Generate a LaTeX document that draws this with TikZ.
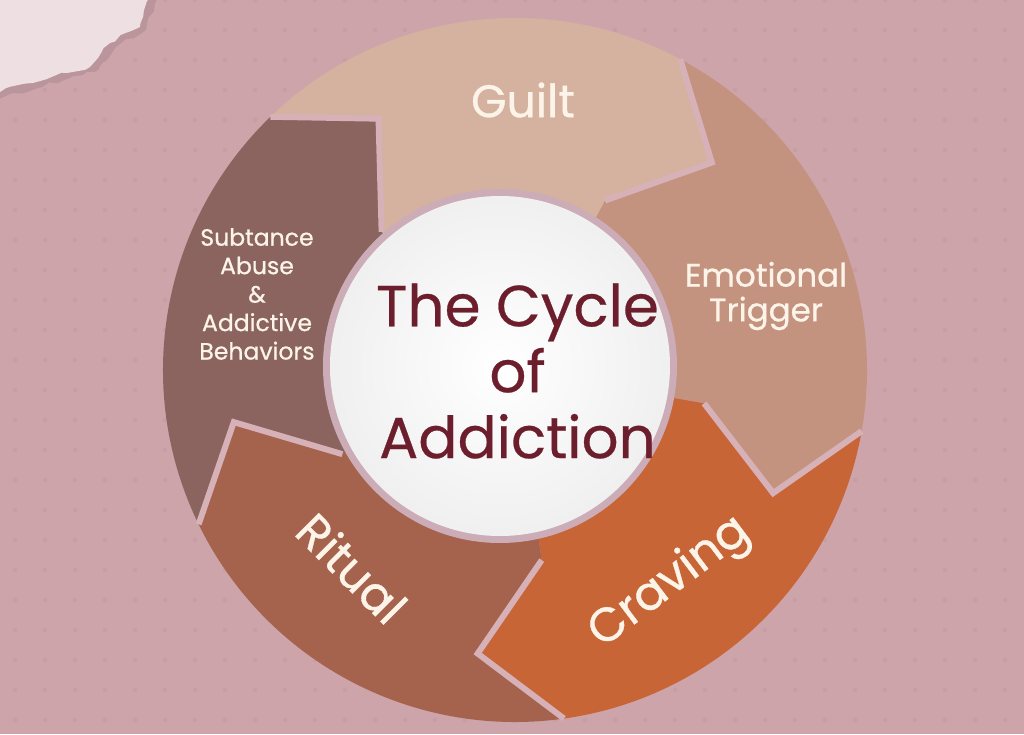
\documentclass[tikz,border=0pt]{standalone}
\usepackage{fontspec}
\setmainfont{Poppins}
\newfontfamily\heavyfont{Poppins}[FakeBold=0.7]
\newfontfamily\midfont{Poppins}[FakeBold=0.45]
\usetikzlibrary{decorations.pathmorphing}

\definecolor{bgpink}{RGB}{205,164,170}
\definecolor{dotpink}{RGB}{200,158,165}
\definecolor{paper}{RGB}{238,223,227}
\definecolor{papershade}{RGB}{186,150,156}
\definecolor{seppink}{RGB}{214,177,183}
\definecolor{rimpink}{RGB}{204,172,182}
\definecolor{guiltc}{RGB}{213,178,160}
\definecolor{triggerc}{RGB}{196,147,128}
\definecolor{cravingc}{RGB}{200,101,55}
\definecolor{ritualc}{RGB}{165,99,78}
\definecolor{abusec}{RGB}{139,100,96}
\definecolor{maroon}{RGB}{108,30,45}
\definecolor{cream}{RGB}{252,244,232}

\newcommand\rout{7.04cm}
\newcommand\rmid{5.72cm}
\newcommand\rjoin{3.84cm}
\newcommand\rin{2.6cm}
% #1 = tail angle, #2 = colour; the head sits 72 degrees further clockwise
\newcommand\cyclearrow[2]{%
  \fill[#2] (#1:\rout) arc[start angle=#1, end angle=#1-72, radius=\rout]
    -- (#1-87.5:\rmid) -- (#1-72:\rjoin) -- (#1-72:\rin)
    arc[start angle=#1-72, end angle=#1, radius=\rin]
    -- (#1:\rjoin) -- (#1-15.5:\rmid) -- cycle;}

\begin{document}
\begin{tikzpicture}[
    sepline/.style={draw=seppink,line width=3.4pt,line join=miter},
    lbl/.style={text=cream,align=center,inner sep=0pt},
    title/.style={text=maroon,align=center,inner sep=0pt,font=\midfont\fontsize{33}{37.5}\selectfont}]
  \useasboundingbox (-10.30,-7.28) rectangle (10.18,7.40);
  \fill[bgpink] (-10.30,-7.28) rectangle (10.18,7.40);
  \foreach \i in {0,...,34}
    \foreach \j in {0,...,24}
      \fill[dotpink] (-10.0+0.6*\i,-7.0+0.6*\j) circle (1.3pt);

  \fill[papershade,decorate,decoration={random steps,segment length=4pt,amplitude=1.2pt}]
    (-10.5,7.6) -- (-7.12,7.6) -- (-7.38,6.80) -- (-7.98,6.46) -- (-8.40,5.96)
    -- (-8.90,5.84) -- (-9.60,5.62) -- (-10.5,5.40) -- cycle;
  \fill[paper,decorate,decoration={random steps,segment length=4pt,amplitude=1.2pt}]
    (-10.5,7.6) -- (-7.24,7.6) -- (-7.50,6.86) -- (-8.10,6.54) -- (-8.50,6.06)
    -- (-8.96,5.94) -- (-9.64,5.74) -- (-10.5,5.52) -- cycle;

  \cyclearrow{134}{guiltc}
  \cyclearrow{62}{triggerc}
  \cyclearrow{-10}{cravingc}
  \cyclearrow{-82}{ritualc}
  \cyclearrow{-154}{abusec}
  \foreach \b in {134,62,-10,-82,-154}
    \draw[sepline] (\b:\rout) -- (\b-15.5:\rmid) -- (\b:\rjoin);

  \fill[rimpink] (-0.30,0.08) circle (3.54cm);
  \shade[inner color=white,outer color=black!6] (-0.30,0.08) circle (3.40cm);

  \node[title] (cycle) at (0.05,-0.02) {The Cycle\\of\\Addiction};
  \node[lbl,font=\heavyfont\fontsize{26}{30}\selectfont] (guilt) at (0.16,5.40) {Guilt};
  \node[lbl,font=\heavyfont\fontsize{18.5}{19.8}\selectfont] (trigger) at (5.02,1.48) {Emotional\\Trigger};
  \node[lbl,font=\heavyfont\fontsize{27}{30}\selectfont,rotate=37] (craving) at (3.10,-4.26) {Craving};
  \node[lbl,font=\heavyfont\fontsize{27}{30}\selectfont,rotate=-45] (ritual) at (-3.26,-3.96) {Ritual};
  \node[lbl,font=\heavyfont\fontsize{13.4}{16.2}\selectfont] (abuse) at (-5.16,1.52) {Subtance\\Abuse\\\&\\Addictive\\Behaviors};
\end{tikzpicture}
\end{document}
